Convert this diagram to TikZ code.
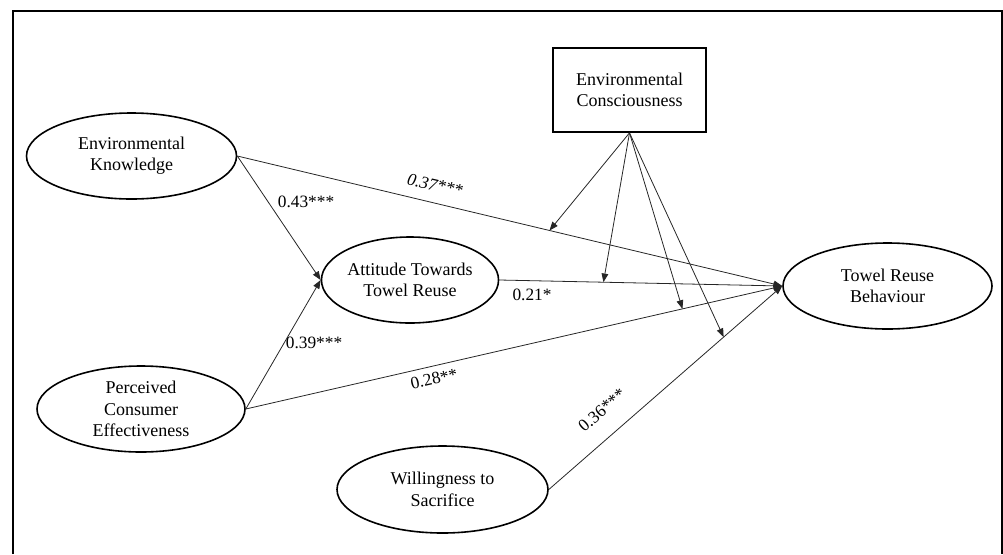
\documentclass[tikz,border=0pt]{standalone}
\usepackage{fontspec}
\setmainfont{Liberation Serif}
\usetikzlibrary{shapes.geometric,arrows.meta}
\begin{document}
\begin{tikzpicture}[x=0.75pt,y=-0.75pt,
  every node/.style={font=\fontsize{13}{15.8}\selectfont},
  latent/.style={ellipse,draw=black,line width=1.2pt,inner sep=0pt,align=center,font=\fontsize{13.5}{16}\selectfont},
  obsbox/.style={rectangle,draw=black,line width=1.3pt,inner sep=0pt,align=center,minimum width=114.75pt,minimum height=63pt,font=\fontsize{13.5}{16}\selectfont},
  path/.style={draw=black!85,line width=0.6pt,-{Triangle[length=6.5pt,width=5pt]}},
  coef/.style={inner sep=0pt}]
\useasboundingbox (0,0) rectangle (1003,554);
\draw[line width=1.5pt] (13,554) -- (13,11) -- (1002,11) -- (1002,554);

\node[obsbox] (ec) at (629.5,90) {Environmental\\Consciousness};
\node[latent,minimum width=157.5pt,minimum height=64.5pt] (ek) at (131.5,156) {Environmental\\Knowledge};
\node[latent,minimum width=127.5pt,minimum height=64.5pt] (att) at (410,280) {Attitude Towards\\Towel Reuse};
\node[latent,minimum width=156pt,minimum height=64.5pt] (pce) at (141,409) {Perceived\\Consumer\\Effectiveness};
\node[latent,minimum width=156.75pt,minimum height=64.5pt] (trb) at (887.5,286) {Towel Reuse\\Behaviour};
\node[latent,minimum width=158.25pt,minimum height=65.25pt] (ws) at (442.5,489.5) {Willingness to\\Sacrifice};

\draw[path] (ek.east) -- (att.west);
\draw[path] (pce.east) -- (att.west);
\draw[path] (ek.east) -- coordinate[pos=0.573] (m1) (trb.west);
\draw[path] (att.east) -- coordinate[pos=0.368] (m2) (trb.west);
\draw[path] (pce.east) -- coordinate[pos=0.814] (m3) (trb.west);
\draw[path] (ws.east) -- coordinate[pos=0.749] (m4) (trb.west);

\draw[path] (ec.south) -- (m1);
\draw[path] (ec.south) -- (m2);
\draw[path] (ec.south) -- (m3);
\draw[path] (ec.south) -- (m4);

\node[coef] (c43) at (306,202) {0.43***};
\node[coef] (c39) at (314,343) {0.39***};
\node[coef,rotate=-13] (c37) at (435,185) {\itshape 0.37***};
\node[coef] (c21) at (532,295) {0.21*};
\node[coef,rotate=13] (c28) at (434,379) {0.28**};
\node[coef,rotate=41] (c36) at (602,410) {0.36***};
\end{tikzpicture}
\end{document}
